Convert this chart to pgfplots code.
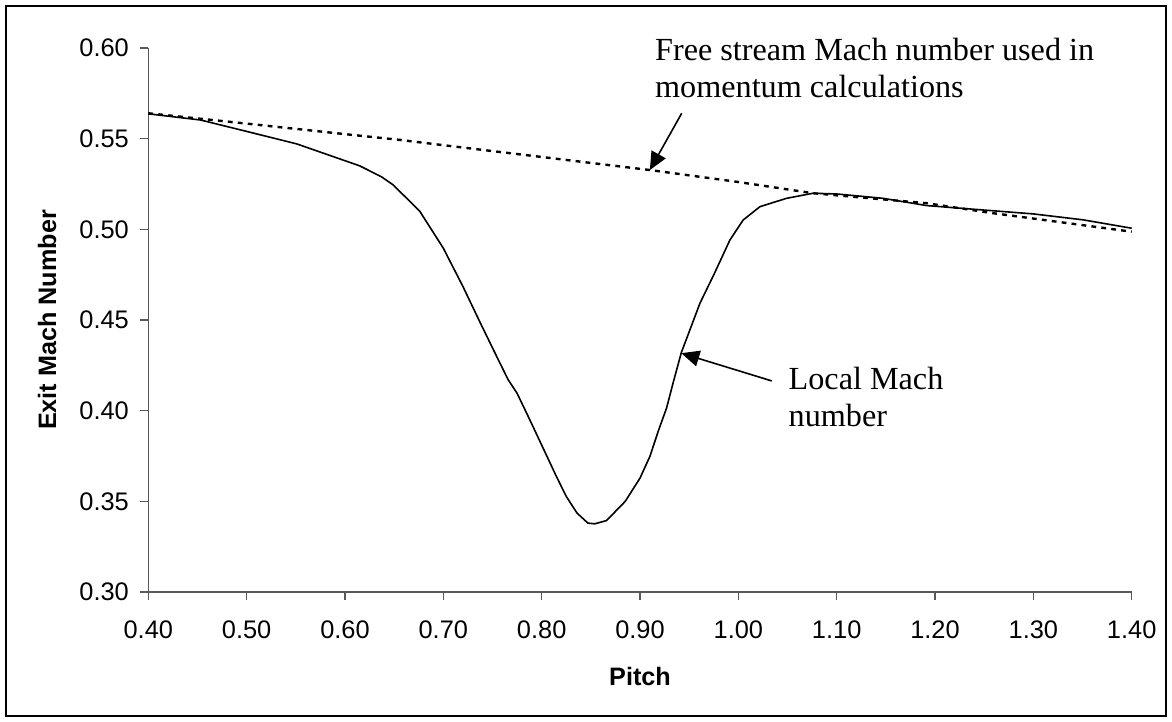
\documentclass[border=0pt]{standalone}
\usepackage{fontspec}
\setmainfont{Liberation Sans}
\newfontfamily\serifann{Liberation Serif}
\usepackage{pgfplots}
\pgfplotsset{compat=1.18}
\usetikzlibrary{arrows.meta}
\newcommand{\tickfont}{\fontsize{12.7}{15}\selectfont}
\begin{document}
\begin{tikzpicture}
\useasboundingbox (0,0) rectangle (586pt,361pt);
\draw[line width=0.9pt] (3pt,3pt) rectangle (583pt,358pt);
\begin{axis}[
  at={(74.15pt,65pt)}, anchor=south west,
  scale only axis, width=491.7pt, height=272pt,
  xmin=0.4, xmax=1.4, ymin=0.3, ymax=0.6,
  axis lines=left,
  axis line style={-, draw=black!65, line width=0.6pt},
  tick align=outside, major tick length=4pt,
  tick style={draw=black!65, line width=0.6pt},
  xtick={0.4,0.5,0.6,0.7,0.8,0.9,1.0,1.1,1.2,1.3,1.4},
  ytick={0.30,0.35,0.40,0.45,0.50,0.55,0.60},
  minor tick num=0,
  xticklabels={0.40,0.50,0.60,0.70,0.80,0.90,1.00,1.10,1.20,1.30,1.40},
  yticklabels={0.30,0.35,0.40,0.45,0.50,0.55,0.60},
  tick label style={font=\tickfont},
  xticklabel style={yshift=-6.8pt},
  yticklabel style={xshift=-2.2pt},
  every axis x label/.style={at={(axis description cs:0.5,-0.1544)}, anchor=center},
  every axis y label/.style={at={(axis description cs:-0.103,0.5)}, anchor=center, rotate=90},
  label style={font=\bfseries\fontsize{12.6}{15}\selectfont},
  xlabel={Pitch}, ylabel={Exit Mach Number},
  clip=false,
]
% Local Mach number (solid)
\addplot[black, line width=0.8pt, line join=round] coordinates {
(0.400,0.5637) (0.453,0.5603) (0.500,0.5540) (0.551,0.5471) (0.615,0.5350)
(0.637,0.5290) (0.649,0.5245) (0.676,0.5100) (0.700,0.4896) (0.720,0.4684)
(0.737,0.4491) (0.751,0.4335) (0.766,0.4170) (0.775,0.4096) (0.788,0.3949)
(0.815,0.3637) (0.825,0.3527) (0.836,0.3435) (0.847,0.3380) (0.854,0.3376)
(0.866,0.3394) (0.885,0.3500) (0.900,0.3628) (0.910,0.3747) (0.919,0.3894)
(0.927,0.4014) (0.934,0.4160) (0.942,0.4320) (0.961,0.4593) (0.975,0.4749)
(0.9915,0.4942) (1.005,0.5052) (1.022,0.5125) (1.049,0.5171) (1.076,0.5199)
(1.100,0.5195) (1.147,0.5171) (1.1915,0.5131) (1.300,0.5085) (1.351,0.5052)
(1.400,0.5006)
};
% Free stream Mach number (dotted)
\addplot[black, line width=1.2pt, dash pattern=on 2.4pt off 2.6pt] coordinates {
(0.400,0.5640) (0.500,0.5583) (0.600,0.5525) (0.656,0.5493) (0.700,0.5464)
(0.800,0.5399) (0.910,0.5327) (1.000,0.5261) (1.076,0.5199) (1.1915,0.5144)
(1.259,0.5089) (1.400,0.4987)
};
\draw[-{Triangle[length=9pt,width=8pt]}, line width=0.8pt]
  (axis cs:0.9424,0.564) -- (axis cs:0.910,0.5327);
\draw[-{Triangle[length=9pt,width=8pt]}, line width=0.8pt]
  (axis cs:1.034,0.4164) -- (axis cs:0.942,0.4317);
\node[anchor=base west, inner sep=0pt, font=\serifann\fontsize{16.1}{18.5}\selectfont]
  at (axis cs:0.915,0.59283) {Free stream Mach number used in};
\node[anchor=base west, inner sep=0pt, font=\serifann\fontsize{16.1}{18.5}\selectfont]
  at (axis cs:0.915,0.57244) {momentum calculations};
\node[anchor=base west, inner sep=0pt, font=\serifann\fontsize{16.1}{18.5}\selectfont]
  at (axis cs:1.0508,0.41147) {Local Mach};
\node[anchor=base west, inner sep=0pt, font=\serifann\fontsize{16.1}{18.5}\selectfont]
  at (axis cs:1.0508,0.39124) {number};
\end{axis}
\end{tikzpicture}
\end{document}
